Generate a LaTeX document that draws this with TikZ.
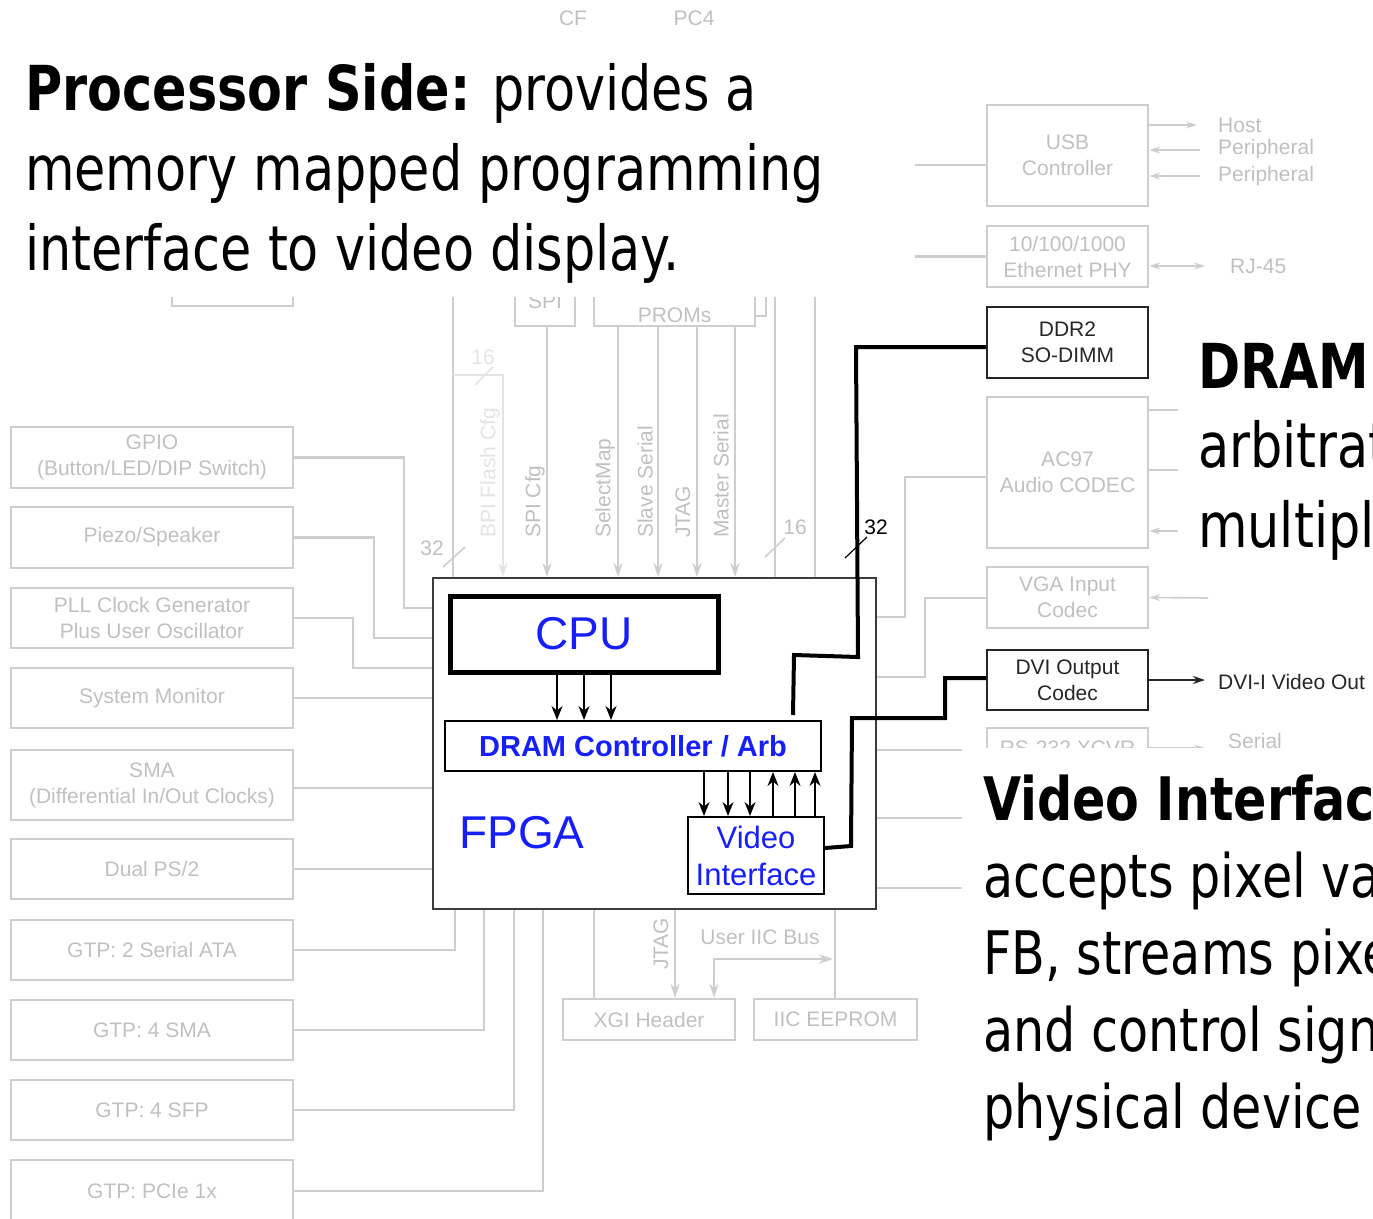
\documentclass[tikz,border=0pt]{standalone}
\usepackage{fontspec}
\setmainfont{Liberation Sans}
\newfontfamily\handfont[FakeStretch=0.82]{DejaVu Sans}
\usetikzlibrary{arrows.meta,calc}

\definecolor{gline}{RGB}{206,206,206}
\definecolor{gfaint}{RGB}{228,228,228}
\definecolor{gtext}{RGB}{192,192,192}
\definecolor{vblue}{RGB}{22,30,250}
\definecolor{frame}{RGB}{60,60,60}

\tikzset{
  gbox/.style={draw=gline, line width=2.4pt, text=gtext, font=\fontsize{21}{26}\selectfont,
               align=center, inner sep=0pt, minimum width=282pt},
  rbox/.style={gbox, minimum width=161pt},
  kbox/.style={rbox, draw=black!85, text=black!85},
  gtxt/.style={text=gtext, font=\fontsize{21}{26}\selectfont, inner sep=0pt},
  gl/.style={draw=gline, line width=2.6pt},
  gthin/.style={draw=gline, line width=1.6pt},
  garr/.style={gl, -{Stealth[length=14pt,width=9pt]}},
  gtarr/.style={gthin, -{Stealth[length=11pt,width=7pt]}},
  barr/.style={draw=black, line width=1.6pt, -{Stealth[length=14pt,width=11pt]}},
  heavy/.style={draw=black, line width=4pt, line join=miter},
  bluebox/.style={draw=black, line width=2pt, inner sep=0pt, text=vblue},
  bigtxt/.style={font=\handfont\fontsize{62}{80}\selectfont, inner sep=0pt, anchor=base west},
  midtxt/.style={font=\handfont\fontsize{60}{77}\selectfont, inner sep=0pt, anchor=base west},
}

\begin{document}
\begin{tikzpicture}[x=1pt,y=-1pt]
\useasboundingbox (0,0) rectangle (1373,1218);
\clip (0,0) rectangle (1373,1218);

% ---------- peripherals on the left ----------
\node[gbox, minimum height=61pt] (gpio)   at (152,457.5) {GPIO\\(Button/LED/DIP Switch)};
\node[gbox, minimum height=61pt] (piezo)  at (152,537.5) {Piezo/Speaker};
\node[gbox, minimum height=60pt] (pll)    at (152,618)   {PLL Clock Generator\\Plus User Oscillator};
\node[gbox, minimum height=60pt] (sysmon) at (152,698)   {System Monitor};
\node[gbox, minimum height=70pt] (sma)    at (152,785)   {SMA\\(Differential In/Out Clocks)};
\node[gbox, minimum height=60pt] (ps2)    at (152,869)   {Dual PS/2};
\node[gbox, minimum height=60pt] (sata)   at (152,950)   {GTP: 2 Serial ATA};
\node[gbox, minimum height=60pt] (gsma)   at (152,1030)  {GTP: 4 SMA};
\node[gbox, minimum height=60pt] (sfp)    at (152,1110)  {GTP: 4 SFP};
\node[gbox, minimum height=62pt] (pcie)   at (152,1191)  {GTP: PCIe 1x};
\draw[gl] (172,297) -- (172,306) -- (293,306) -- (293,297);

% ---------- FPGA frame ----------
\node[draw=frame, line width=2pt, minimum width=443pt, minimum height=331pt, inner sep=0pt] (fpga) at (654.5,743.5) {};

\draw[gl] (gpio.east)  -- (404,457.5) -- (404,608) -- (fpga.west |- 0,608);
\draw[gl] (piezo.east) -- (374,537.5) -- (374,638) -- (fpga.west |- 0,638);
\draw[gl] (pll.east)   -- (353,618)   -- (353,668) -- (fpga.west |- 0,668);
\draw[gl] (sysmon.east) -- (fpga.west |- sysmon.east);
\draw[gl] (sma.east |- 0,788) -- (fpga.west |- 0,788);
\draw[gl] (ps2.east) -- (fpga.west |- ps2.east);
\draw[gl] (sata.east) -- (455,950)  -- (fpga.south -| 455,0);
\draw[gl] (gsma.east) -- (484,1030) -- (fpga.south -| 484,0);
\draw[gl] (sfp.east)  -- (514,1110) -- (fpga.south -| 514,0);
\draw[gl] (pcie.east) -- (543,1191) -- (fpga.south -| 543,0);

% ---------- configuration sources above ----------
\node[rbox, minimum width=60pt, minimum height=50pt] (spi) at (545,301) {SPI};
\node[rbox, minimum height=60pt] (proms) at (674.5,296) {};
\node[gtxt] (promstxt) at (674.5,315) {PROMs};
\draw[gl] (766,297) -- (766,316) -- (proms.east |- 0,316);

\draw[gl] (453,297) -- (fpga.north -| 453,0);
\draw[gl, draw=gfaint, -{Stealth[length=14pt,width=9pt]}] (453,375) -- (503,375) -- (fpga.north -| 503,0);
\draw[garr] (spi.south -| 547,0) -- (fpga.north -| 547,0);
\foreach \x in {618,658,697,735} \draw[garr] (proms.south -| \x,0) -- (fpga.north -| \x,0);
\draw[gl] (775,297) -- (fpga.north -| 775,0);
\draw[gl] (815,297) -- (fpga.north -| 815,0);

\node[gtxt, text=gfaint, rotate=90, anchor=west] (lbpi) at (490,538) {BPI Flash Cfg};
\node[gtxt, rotate=90, anchor=west] (lspi)    at (535,538) {SPI Cfg};
\node[gtxt, rotate=90, anchor=west] (lsel)    at (605,538) {SelectMap};
\node[gtxt, rotate=90, anchor=west] (lslave)  at (645,538) {Slave Serial};
\node[gtxt, rotate=90, anchor=west] (ljtag)   at (683,538) {JTAG};
\node[gtxt, rotate=90, anchor=west] (lmaster) at (721,538) {Master Serial};

% bus widths
\node[gtxt] (w32a) at (432,548) {32};
\draw[gthin] (443,567) -- (465,547);
\node[gtxt, text=gfaint] (w16a) at (483,357) {16};
\draw[gthin, draw=gfaint] (475,385) -- (493,367);
\node[gtxt] (w16b) at (795,527) {16};
\draw[gthin] (765,557) -- (785,538);
\node[inner sep=0pt, font=\fontsize{21}{26}\selectfont] (w32b) at (876,527) {32};
\draw[black, line width=1.2pt] (845,558) -- (867,537);

% ---------- inside the FPGA ----------
\node[bluebox, line width=5pt, minimum width=268pt, minimum height=76pt, font=\fontsize{46}{50}\selectfont] (cpu) at (584,634) {CPU};
\node[bluebox, minimum width=376pt, minimum height=50pt, font=\bfseries\fontsize{29}{32}\selectfont] (dram) at (633,746) {DRAM Controller / Arb};
\node[bluebox, minimum width=136pt, minimum height=77pt, align=center, font=\fontsize{31}{37}\selectfont] (video) at (756,855.5) {Video\\Interface};
\node[text=vblue, inner sep=0pt, font=\fontsize{46}{50}\selectfont] (fpgalabel) at (522,833) {FPGA};

\foreach \x in {557,584,611} \draw[barr] (cpu.south -| \x,0) -- (dram.north -| \x,0);
\foreach \x in {704,728,750} \draw[barr] (dram.south -| \x,0) -- (video.north -| \x,0);
\foreach \x in {773,795,815} \draw[barr] (video.north -| \x,0) -- (dram.south -| \x,0);

% ---------- devices on the right ----------
\node[rbox, minimum height=101pt] (usb)   at (1067.5,155.5) {USB\\Controller};
\node[rbox, minimum height=61pt]  (eth)   at (1067.5,256.5) {10/100/1000\\Ethernet PHY};
\node[kbox, minimum height=71pt]  (ddr2)  at (1067.5,342.5) {DDR2\\SO-DIMM};
\node[rbox, minimum height=151pt] (ac97)  at (1067.5,472.5) {AC97\\Audio CODEC};
\node[rbox, minimum height=61pt]  (vga)   at (1067.5,597.5) {VGA Input\\Codec};
\node[kbox, minimum height=60pt]  (dvi)   at (1067.5,680)   {DVI Output\\Codec};
\node[rbox, minimum height=40pt]  (rs232) at (1067.5,748)   {RS-232 XCVR};

\draw[gl] (915,165) -- (usb.west |- 0,165);
\draw[gl] (915,256.5) -- (eth.west);
\draw[gtarr] (usb.east |- 0,125) -- (1197,125);
\draw[gtarr] (1200,150) -- (usb.east |- 0,150);
\draw[gtarr] (1200,176) -- (usb.east |- 0,176);
\node[gtxt, anchor=west] (host)   at (1218,125) {Host};
\node[gtxt, anchor=west] (periA)  at (1218,149) {Peripheral};
\node[gtxt, anchor=west] (periB)  at (1218,176) {Peripheral};
\draw[gthin, {Stealth[length=11pt,width=7pt]}-{Stealth[length=11pt,width=7pt]}] (eth.east |- 0,266) -- (1205,266);
\node[gtxt, anchor=west] (rj45) at (1230,266) {RJ-45};
\draw[gthin] (ac97.east |- 0,410) -- (1200,410);
\draw[gthin] (ac97.east |- 0,470) -- (1200,470);
\draw[gtarr] (1200,531) -- (ac97.east |- 0,531);
\draw[gtarr] (1208,598) -- (vga.east);
\draw[black!85, line width=1.6pt, -{Stealth[length=12pt,width=8pt]}] (dvi.east) -- (1205,680);
\node[inner sep=0pt, anchor=west, text=black!85, font=\fontsize{21}{26}\selectfont] (dviout) at (1218,682) {DVI-I Video Out};
\draw[gtarr] (rs232.east) -- (1205,748);
\node[gtxt, anchor=west] (serial) at (1228,741) {Serial};

\draw[gl] (fpga.east |- 0,617) -- (905,617) -- (905,477) -- (ac97.west |- 0,477);
\draw[gl] (fpga.east |- 0,677) -- (925,677) -- (925,598) -- (vga.west |- 0,598);
\draw[gl] (fpga.east |- 0,750) -- (rs232.west |- 0,750);
\coordinate (stubA) at (980,818);
\coordinate (stubB) at (980,888);
\draw[gl] (fpga.east |- stubA) -- (stubA);
\draw[gl] (fpga.east |- stubB) -- (stubB);

% memory and display paths
\draw[heavy] ([yshift=5pt]dram.north -| 793,0) -- (794,655) -- (858,657) -- (856,347) -- (ddr2.west |- 0,347);
\draw[heavy] (video.east |- 0,848) -- (851,846) -- (852,718) -- (945,718) -- (945,678) -- (dvi.west |- 0,678);

% ---------- headers below ----------
\node[rbox, minimum width=172pt, minimum height=41pt] (xgi)    at (649,1019.5) {XGI Header};
\node[rbox, minimum width=163pt, minimum height=41pt] (eeprom) at (835.5,1019.5) {IIC EEPROM};
\draw[gl] (fpga.south -| 594,0) -- (xgi.north -| 594,0);
\draw[garr] (fpga.south -| 675,0) -- (xgi.north -| 675,0);
\node[gtxt, rotate=90, anchor=west] (ljtag2) at (661,970) {JTAG};
\draw[gl, {Stealth[length=14pt,width=9pt]}-{Stealth[length=14pt,width=9pt]}] (xgi.north -| 714,0) -- (714,959) -- (833,959);
\draw[gl] (fpga.south -| 835,0) -- (eeprom.north -| 835,0);
\node[gtxt] (iicbus) at (760,937) {User IIC Bus};

% ---------- top connectors ----------
\node[gtxt] (cf)  at (573,18) {CF};
\node[gtxt] (pc4) at (694,18) {PC4};

% ---------- callout panels ----------
\fill[white] (0,35) rectangle (912,297);
\fill[white] (1178,297) rectangle (1373,572);
\fill[white] (962,748) rectangle (1373,1218);

\node[bigtxt] (p1) at (25,110) {\textbf{Processor Side:} provides a};
\node[bigtxt] (p2) at (25,190) {memory mapped programming};
\node[bigtxt] (p3) at (25,270) {interface to video display.};

\node[bigtxt] (d1) at (1198,388) {\textbf{DRAM}};
\node[bigtxt] (d2) at (1198,467) {arbitrates};
\node[bigtxt] (d3) at (1198,547) {multiple};

\node[midtxt] (v1) at (983,820)  {\textbf{Video Interface:}};
\node[midtxt] (v2) at (983,897)  {accepts pixel values};
\node[midtxt] (v3) at (983,974)  {FB, streams pixels};
\node[midtxt] (v4) at (983,1051) {and control signals};
\node[midtxt] (v5) at (983,1128) {physical device};
\end{tikzpicture}
\end{document}
